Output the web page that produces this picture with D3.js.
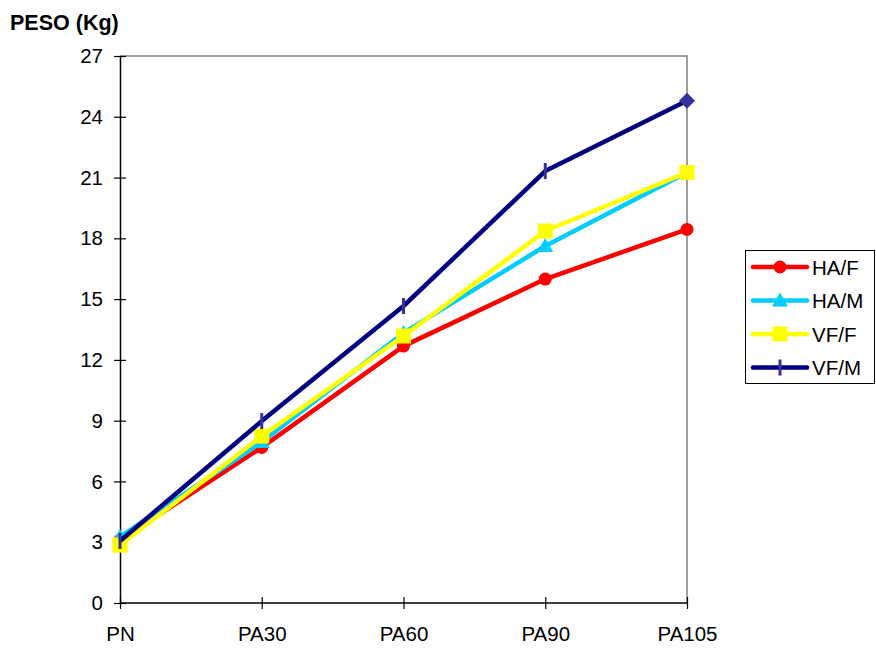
<!DOCTYPE html>
<html>
<head>
<meta charset="utf-8">
<script src="https://cdn.jsdelivr.net/npm/d3@7"></script>
<style>
  html, body { margin: 0; padding: 0; background: #fff; }
  svg { display: block; font-family: "Liberation Sans", Arial, sans-serif; }
</style>
</head>
<body>
<svg id="chart" width="876" height="648"></svg>
<script>
// Weight (kg) at each measurement stage, per group
const categories = ["PN", "PA30", "PA60", "PA90", "PA105"];
const yTicks = [0, 3, 6, 9, 12, 15, 18, 21, 24, 27];
const seriesNames = ["HA/F", "HA/M", "VF/F", "VF/M"];
const haF = [3.1, 7.68, 12.68, 15.99, 18.44];
const haM = [3.26, 7.95, 13.33, 17.62, 21.25];
const vfF = [2.86, 8.24, 13.18, 18.36, 21.25];
const vfM = [3.06, 8.98, 14.66, 21.32, 24.79];
const colors = ["#FF0000", "#00CCFF", "#FFFF00", "#000080"];
const markers = ["circle", "triangle", "square", "bar"];

const series = [haF, haM, vfF, vfM].map((v, i) => ({
  name: seriesNames[i], values: v, color: colors[i], marker: markers[i]
}));

const svg = d3.select("#chart");
const plotLeft = 120, plotRight = 687, plotTop = 56, plotBottom = 603;

const x = d3.scalePoint().domain(categories).range([plotLeft, plotRight]).padding(0);
const y = d3.scaleLinear().domain([0, 27]).range([plotBottom, plotTop]);

// plot frame: grey top and right edges
svg.append("path")
  .attr("d", `M${plotLeft},${plotTop}H${plotRight}V${plotBottom}`)
  .attr("fill", "none").attr("stroke", "#808080").attr("stroke-width", 1.5);

// y axis
const yAxis = svg.append("g").attr("transform", `translate(${plotLeft},0)`)
  .call(d3.axisLeft(y).tickValues(yTicks).tickSizeInner(6).tickSizeOuter(0).tickPadding(11));
yAxis.selectAll(".tick line").attr("x2", 6).attr("x1", -6);
yAxis.select(".domain").attr("stroke", "#000").attr("stroke-width", 1.5);
yAxis.selectAll(".tick line").attr("stroke", "#000").attr("stroke-width", 1.2);
yAxis.selectAll("text").attr("font-size", 20.5).attr("fill", "#000")
  .attr("font-family", "Liberation Sans, Arial, sans-serif");

// x axis
const xAxis = svg.append("g").attr("transform", `translate(0,${plotBottom})`)
  .call(d3.axisBottom(x).tickSizeInner(6).tickSizeOuter(0).tickPadding(17));
xAxis.selectAll(".tick line").attr("y1", -6).attr("y2", 6);
xAxis.select(".domain").attr("stroke", "#000").attr("stroke-width", 1.5)
  .attr("d", `M${plotLeft},0H${plotRight}`);
xAxis.selectAll(".tick line").attr("stroke", "#000").attr("stroke-width", 1.2);
xAxis.selectAll("text").attr("font-size", 20.5).attr("fill", "#000")
  .attr("font-family", "Liberation Sans, Arial, sans-serif");

// axis title
svg.append("text").attr("x", 10).attr("y", 30)
  .attr("font-size", 21.5).attr("font-weight", "bold").text("PESO (Kg)");

function drawMarker(g, type, cx, cy, color) {
  if (type === "circle") {
    g.append("circle").attr("cx", cx).attr("cy", cy).attr("r", 6.5).attr("fill", color);
  } else if (type === "triangle") {
    g.append("path").attr("d", `M${cx},${cy - 8}L${cx + 8},${cy + 6}L${cx - 8},${cy + 6}Z`).attr("fill", color);
  } else if (type === "square") {
    g.append("rect").attr("x", cx - 7.5).attr("y", cy - 7.5).attr("width", 15).attr("height", 15).attr("fill", color);
  } else if (type === "bar") {
    g.append("line").attr("x1", cx).attr("x2", cx).attr("y1", cy - 8).attr("y2", cy + 8)
      .attr("stroke", "#333399").attr("stroke-width", 3);
  } else if (type === "diamond") {
    g.append("path").attr("d", `M${cx},${cy - 8}L${cx + 8},${cy}L${cx},${cy + 8}L${cx - 8},${cy}Z`).attr("fill", "#333399");
  }
}

const line = d3.line().x((d, i) => x(categories[i])).y(d => y(d));

series.forEach(s => {
  const g = svg.append("g");
  g.append("path").attr("d", line(s.values)).attr("fill", "none")
    .attr("stroke", s.color).attr("stroke-width", 4.5).attr("stroke-linejoin", "round");
  s.values.forEach((v, i) => {
    // the final VF/M point is drawn as a diamond
    const type = (s.name === "VF/M" && i === s.values.length - 1) ? "diamond" : s.marker;
    drawMarker(g, type, x(categories[i]), y(v), s.color);
  });
});

// legend
const lg = svg.append("g");
lg.append("rect").attr("x", 745.5).attr("y", 250.5).attr("width", 129).attr("height", 133)
  .attr("fill", "#fff").attr("stroke", "#000").attr("stroke-width", 1);
series.forEach((s, i) => {
  const cy = 267 + i * 33.5;
  lg.append("line").attr("x1", 753).attr("x2", 807).attr("y1", cy).attr("y2", cy)
    .attr("stroke", s.color).attr("stroke-width", 4.5).attr("stroke-linecap", "round");
  drawMarker(lg, s.marker, 780, cy, s.color);
  lg.append("text").attr("x", 812).attr("y", cy + 7.5).attr("font-size", 20.5).text(s.name);
});
</script>
</body>
</html>
